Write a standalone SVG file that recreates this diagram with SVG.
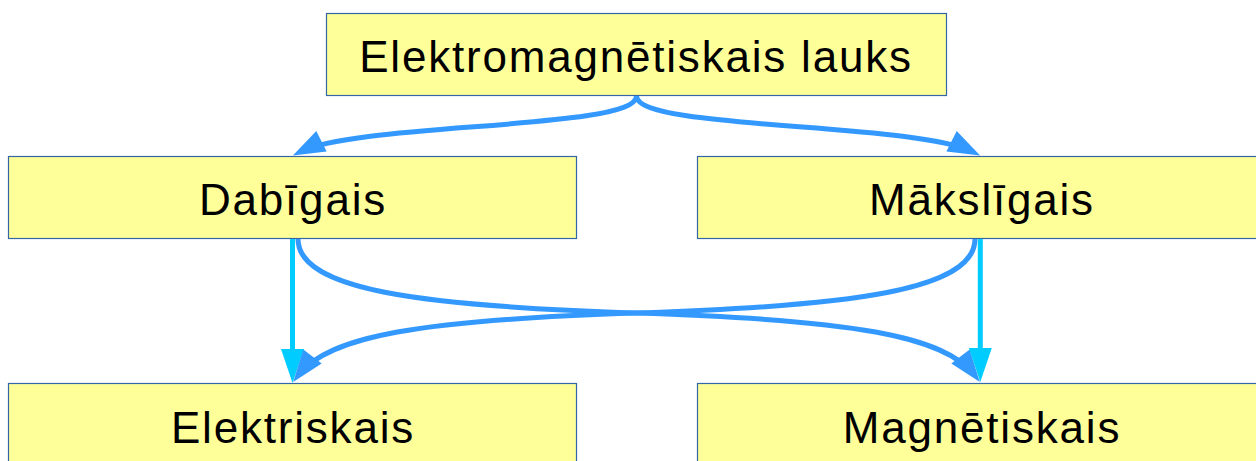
<svg xmlns="http://www.w3.org/2000/svg" width="1256" height="461" viewBox="0 0 1256 461">
<style>
.box{fill:#ffff99;stroke:#3465a4;stroke-width:1.2}
.lbl{font-family:"Liberation Sans",Arial,sans-serif;font-size:44px;letter-spacing:1.8px;fill:#000;text-anchor:middle}
.blue{fill:none;stroke:#3399ff;stroke-width:5}
.cyan{fill:none;stroke:#00ccff;stroke-width:5}
</style>
<defs>
<marker id="ab" markerUnits="userSpaceOnUse" markerWidth="32" markerHeight="24" refX="24" refY="11.5" orient="auto" overflow="visible">
<path d="M0,0 L32,11.5 L0,23 Z" fill="#3399ff"/>
</marker>
<marker id="ac" markerUnits="userSpaceOnUse" markerWidth="34" markerHeight="24" refX="26" refY="11.5" orient="auto" overflow="visible">
<path d="M0,0 L34,11.5 L0,23 Z" fill="#00ccff"/>
</marker>
</defs>
<g id="n-em">
<rect class="box" x="326.5" y="13.5" width="620" height="82"/>
<text class="lbl" x="636" y="72">Elektromagnētiskais lauks</text>
</g>
<g id="n-dab">
<rect class="box" x="8.5" y="156.5" width="568" height="82"/>
<text class="lbl" x="293" y="215">Dabīgais</text>
</g>
<g id="n-mak">
<rect class="box" x="697.5" y="156.5" width="568" height="82"/>
<text class="lbl" x="982" y="215">Mākslīgais</text>
</g>
<g id="n-el">
<rect class="box" x="8.5" y="383.5" width="568" height="82"/>
<text class="lbl" x="293" y="443">Elektriskais</text>
</g>
<g id="n-mag">
<rect class="box" x="697.5" y="383.5" width="568" height="82"/>
<text class="lbl" x="982" y="443">Magnētiskais</text>
</g>
<g id="connectors">
<path class="blue" d="M636.5,96 C636.5,130 360,122 300,152" marker-end="url(#ab)"/>
<path class="blue" d="M636.5,96 C636.5,130 913,122 973,152" marker-end="url(#ab)"/>
<path class="blue" d="M298,239 C298,290 420,306 636.5,313 C853,320 945,336 975,375.6" marker-end="url(#ab)"/>
<path class="cyan" d="M980.3,239 L980.3,374" marker-end="url(#ac)"/>
<path class="cyan" d="M292.5,239 L292.5,375" marker-end="url(#ac)"/>
<path class="blue" d="M975,239 C975,290 853,306 636.5,313 C420,320 328,336 298,375.6" marker-end="url(#ab)"/>
</g>
</svg>
